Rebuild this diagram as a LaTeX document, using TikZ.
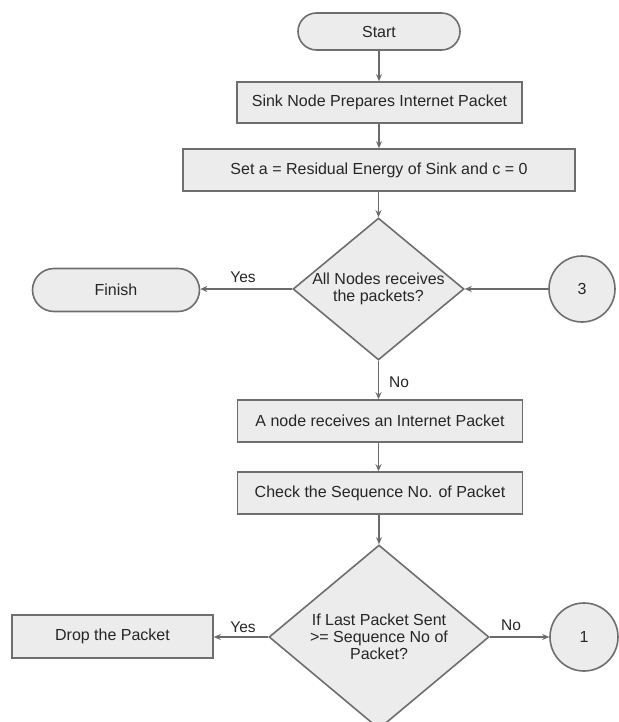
\documentclass[tikz,border=0pt]{standalone}
\usepackage{fontspec}
\setmainfont{Liberation Sans}
\usetikzlibrary{shapes.geometric,shapes.misc,arrows.meta}
\definecolor{edgegray}{HTML}{6E6E6E}
\definecolor{linegray}{HTML}{6A6A6A}
\definecolor{fillgray}{HTML}{ECECEC}
\definecolor{txtgray}{HTML}{262626}
\begin{document}
\begin{tikzpicture}[x=1pt,y=-1pt,
  font=\fontsize{16}{17}\selectfont, text=txtgray,
  base/.style={draw=edgegray, fill=fillgray, line width=1.6pt, inner sep=0pt, align=center},
  procbox/.style={base, rectangle, minimum width=285pt, minimum height=42pt},
  term/.style={base, rounded rectangle},
  decis/.style={base, diamond, shape aspect=1.2, inner sep=-6pt},
  conn/.style={base, circle, minimum size=67pt},
  flow/.style={draw=linegray, line width=1.5pt, -{Stealth[length=7pt,width=6pt]}},
  lbl/.style={font=\fontsize{15.5}{17}\selectfont}
]
\useasboundingbox (0,0) rectangle (618,722);

\node[term, minimum width=162pt, minimum height=37pt] (start) at (379,31.5) {Start};
\node[procbox, minimum height=41pt] (prep) at (379.5,102.5) {Sink Node Prepares Internet Packet};
\node[procbox, minimum width=392pt] (seta) at (379,170) {Set a = Residual Energy of Sink and c = 0};
\node[decis, minimum width=171pt, minimum height=142pt] (all) at (378.5,289) {All Nodes receives\\the packets?};
\node[term, minimum width=167pt, minimum height=43pt] (finish) at (116,290) {Finish};
\node[conn, minimum size=66pt] (c3) at (582,289) {3};
\node[procbox] (recv) at (380,421) {A node receives an Internet Packet};
\node[procbox] (check) at (380,493) {Check the Sequence No. of Packet};
\node[decis, minimum width=220pt, minimum height=184pt] (ifl) at (379,637) {If Last Packet Sent\\>= Sequence No of\\Packet?};
\node[procbox, minimum width=201pt, minimum height=43pt] (drop) at (112.5,636.5) {Drop the Packet};
\node[conn, minimum size=68pt] (c1) at (584,637) {1};

\draw[flow] (start.south) -- (start.south |- prep.north);
\draw[flow] (start.south |- prep.south) -- (start.south |- seta.north);
\draw[flow] (all.north |- seta.south) -- (all.north);
\draw[flow] (all.west) -- (finish.east |- all.west);
\draw[flow] (c3.west) -- (all.east);
\draw[flow] (all.south) -- (all.south |- recv.north);
\draw[flow] (all.south |- recv.south) -- (all.south |- check.north);
\draw[flow] (ifl.north |- check.south) -- (ifl.north);
\draw[flow] (ifl.west) -- (drop.east |- ifl.west);
\draw[flow] (ifl.east) -- (c1.west);

\node[lbl] (yes1) at (243,277) {Yes};
\node[lbl] (no1) at (399,382) {No};
\node[lbl] (yes2) at (243,627) {Yes};
\node[lbl] (no2) at (511,625) {No};
\end{tikzpicture}
\end{document}
